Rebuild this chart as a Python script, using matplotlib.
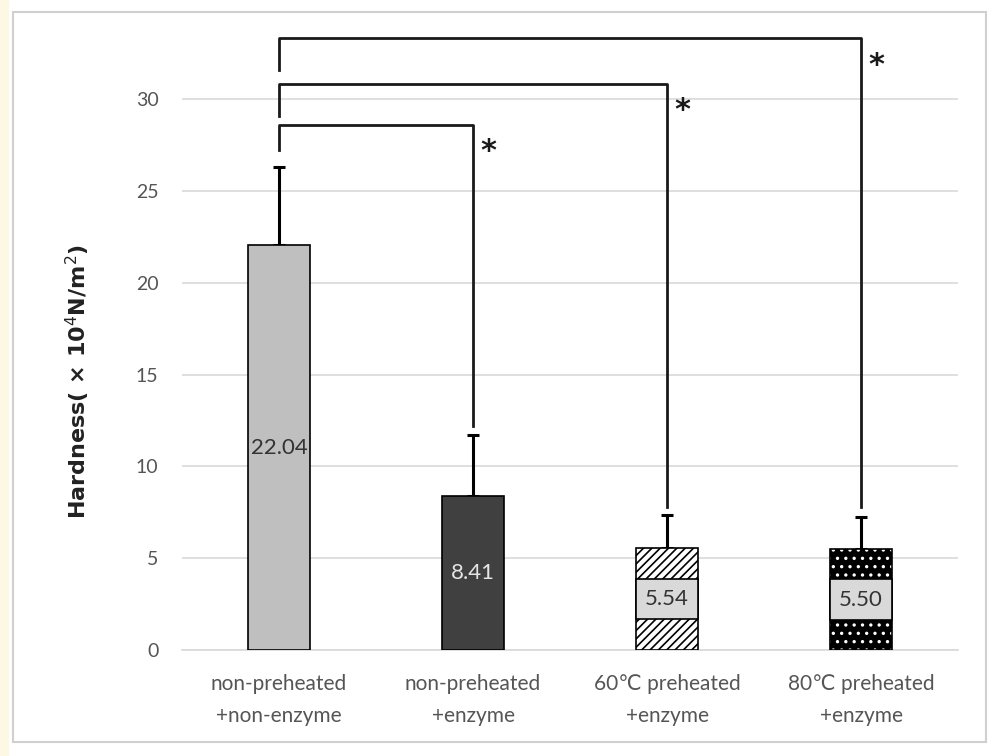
import numpy as np
import matplotlib.pyplot as plt
from matplotlib.patches import Rectangle

plt.rcParams['font.family'] = ['Lato', 'DejaVu Sans']
plt.rcParams['hatch.linewidth'] = 1.2

groups = ['non-preheated\n+non-enzyme', 'non-preheated\n+enzyme',
          '60\u2103 preheated\n+enzyme', '80\u2103 preheated\n+enzyme']
hardness = [22.04, 8.41, 5.54, 5.50]
sd = [4.26, 3.29, 1.81, 1.74]
# significance brackets: (left group, right group, bracket height, left leg end, right leg end)
pairs = [(0, 1, 28.6, 27.2, 12.2), (0, 2, 30.8, 29.1, 7.8), (0, 3, 33.3, 31.6, 7.8)]

fig = plt.figure(figsize=(9.98, 7.56), dpi=100)
fig.patch.set_facecolor('white')
# page frame
fig.add_artist(Rectangle((0, 0), 0.008, 1, transform=fig.transFigure, color='#fdf8e4', zorder=0))
fig.add_artist(Rectangle((0.013, 0.018), 0.975, 0.966, transform=fig.transFigure,
                         fill=False, edgecolor='#d0d0d0', lw=1.5))

ax = fig.add_axes([0.1824, 0.1402, 0.7776, 0.826])
x = np.arange(len(groups))
w = 0.32

ax.bar(x[0], hardness[0], w, color='#bfbfbf', edgecolor='black', lw=1.2, zorder=3)
ax.bar(x[1], hardness[1], w, color='#404040', edgecolor='black', lw=1.2, zorder=3)
ax.bar(x[2], hardness[2], w, color='white', edgecolor='black', hatch='////', lw=0, zorder=3)
ax.bar(x[3], hardness[3], w, color='black', edgecolor='white', hatch='..', lw=0, zorder=3)
ax.bar(x[2:], hardness[2:], w, color='none', edgecolor='black', lw=1.2, zorder=4)

ax.errorbar(x, hardness, yerr=[np.zeros(4), sd], fmt='none', ecolor='black',
            elinewidth=2.2, capsize=4.5, capthick=2.2, zorder=2)

# value labels
ax.text(x[0], hardness[0] / 2, f'{hardness[0]:.2f}', ha='center', va='center',
        fontsize=16, color='#333333', zorder=6)
ax.text(x[1], hardness[1] / 2, f'{hardness[1]:.2f}', ha='center', va='center',
        fontsize=16, color='#e6e6e6', zorder=6)
for i in (2, 3):
    ax.bar(x[i], 2.2, w, bottom=hardness[i] / 2 - 1.1, color='#d9d9d9',
           edgecolor='black', lw=1.2, zorder=5)
    ax.text(x[i], hardness[i] / 2, f'{hardness[i]:.2f}', ha='center', va='center',
            fontsize=16, color='#333333', zorder=6)

for a, b, top, la, lb in pairs:
    ax.plot([x[a], x[a], x[b], x[b]], [la, top, top, lb], color='#1a1a1a', lw=2,
            solid_joinstyle='round', clip_on=False, zorder=3)
    ax.text(x[b] + 0.08, top - 1.45, '*', ha='center', va='center', fontsize=22,
            fontweight='bold', family='DejaVu Sans', color='#1a1a1a', clip_on=False)

ax.set_xlim(-0.5, 3.5)
ax.set_ylim(0, 34)
ax.set_yticks(np.arange(0, 31, 5))
ax.yaxis.grid(True, color='#d9d9d9', lw=1.2, zorder=0)
ax.set_axisbelow(True)
for s in ['top', 'right', 'left']:
    ax.spines[s].set_visible(False)
ax.spines['bottom'].set_color('#d9d9d9')
ax.spines['bottom'].set_linewidth(1.2)
ax.tick_params(axis='both', length=0, labelsize=14, labelcolor='#555555')
ax.tick_params(axis='y', pad=17)
ax.tick_params(axis='x', labelsize=15, pad=17)
ax.set_xticks(x)
ax.set_xticklabels(groups, linespacing=1.75)
ax.set_ylabel('Hardness( \u00d7 10$^{4}$N/m$^{2}$)', fontsize=16, fontweight='bold',
              family='DejaVu Sans', color='#222222')
ax.yaxis.set_label_coords(-0.116, 0.43)

fig.savefig('out.png', dpi=100)
